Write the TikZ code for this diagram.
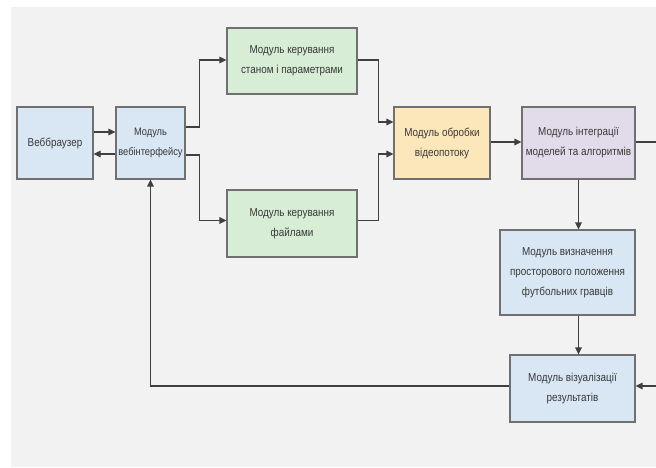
\documentclass[tikz,border=0pt]{standalone}
\usepackage{fontspec}
\setmainfont{Liberation Sans}[FakeStretch=0.86]
\usetikzlibrary{arrows.meta}
\definecolor{bgpanel}{HTML}{F2F2F2}
\definecolor{boxline}{HTML}{707070}
\definecolor{wire}{HTML}{404040}
\definecolor{txt}{HTML}{383838}
\definecolor{bluefill}{HTML}{D9E6F3}
\definecolor{greenfill}{HTML}{D8EDD5}
\definecolor{orangefill}{HTML}{FCE7BA}
\definecolor{purplefill}{HTML}{E2DBEA}
\tikzset{
  module/.style={draw=boxline, line width=1.1pt, text=txt, align=center,
    inner sep=2pt, font=\fontsize{11.5}{20}\selectfont},
  bluebox/.style={module, fill=bluefill},
  greenbox/.style={module, fill=greenfill},
  orangebox/.style={module, fill=orangefill},
  purplebox/.style={module, fill=purplefill},
  flow/.style={draw=wire, line width=1.1pt, -{Triangle[length=7pt,width=6.5pt]}},
  wireonly/.style={draw=wire, line width=1.1pt}
}
\begin{document}
\begin{tikzpicture}[x=1pt, y=-1pt]
  \useasboundingbox (0,0) rectangle (656,467);
  \fill[white] (0,0) rectangle (656,467);
  \fill[bgpanel] (11,7) rectangle (656,467);

  % modules
  \node[bluebox, minimum width=76pt, minimum height=72pt] (browser) at (55,143) {Веббраузер};
  \node[bluebox, minimum width=69pt, minimum height=72pt, inner sep=0pt,
        font=\fontsize{10.8}{20}\selectfont] (web) at (150.5,143) {Модуль\\вебінтерфейсу};
  \node[greenbox, minimum width=130pt, minimum height=66pt] (state) at (292,61) {Модуль керування\\станом і параметрами};
  \node[greenbox, minimum width=130pt, minimum height=67pt] (files) at (292,223.5) {Модуль керування\\файлами};
  \node[orangebox, minimum width=96pt, minimum height=72pt] (video) at (442,143) {Модуль обробки\\відеопотоку};
  \node[purplebox, minimum width=113pt, minimum height=72pt] (integ) at (578.5,143) {Модуль інтеграції\\моделей та алгоритмів};
  \node[bluebox, minimum width=135pt, minimum height=85pt] (pos) at (567.5,272.5) {Модуль визначення\\просторового положення\\футбольних гравців};
  \node[bluebox, minimum width=125pt, minimum height=67pt] (vis) at (572.5,388.5) {Модуль візуалізації\\результатів};

  % free ends at the right border
  \coordinate (outR) at (656,143);
  \coordinate (inR) at (656,386);

  % connectors
  \draw[flow] ([yshift=11pt]browser.east) -- ([yshift=11pt]web.west);
  \draw[flow] ([yshift=-11pt]web.west) -- ([yshift=-11pt]browser.east);
  \draw[flow] ([yshift=16pt]web.east) -- ++(14,0) |- ([yshift=1pt]state.west);
  \draw[flow] ([yshift=-12pt]web.east) -- ++(14,0) |- ([yshift=3pt]files.west);
  \draw[flow] ([yshift=1pt]state.east) -- ++(21,0) |- ([yshift=21pt]video.west);
  \draw[flow] ([yshift=3pt]files.east) -- ++(21,0) |- ([yshift=-11pt]video.west);
  \draw[flow] ([yshift=1pt]video.east) -- ([yshift=1pt]integ.west);
  \draw[wireonly] ([yshift=1pt]integ.east) -- ([yshift=1pt]outR);
  \draw[flow] (integ.south) -- (integ.south |- pos.north);
  \draw[flow] (integ.south |- pos.south) -- (integ.south |- vis.north);
  \draw[flow] (inR) -- (inR -| vis.east);
  \draw[flow] ([yshift=2.5pt]vis.west) -| (web.south);
\end{tikzpicture}
\end{document}
